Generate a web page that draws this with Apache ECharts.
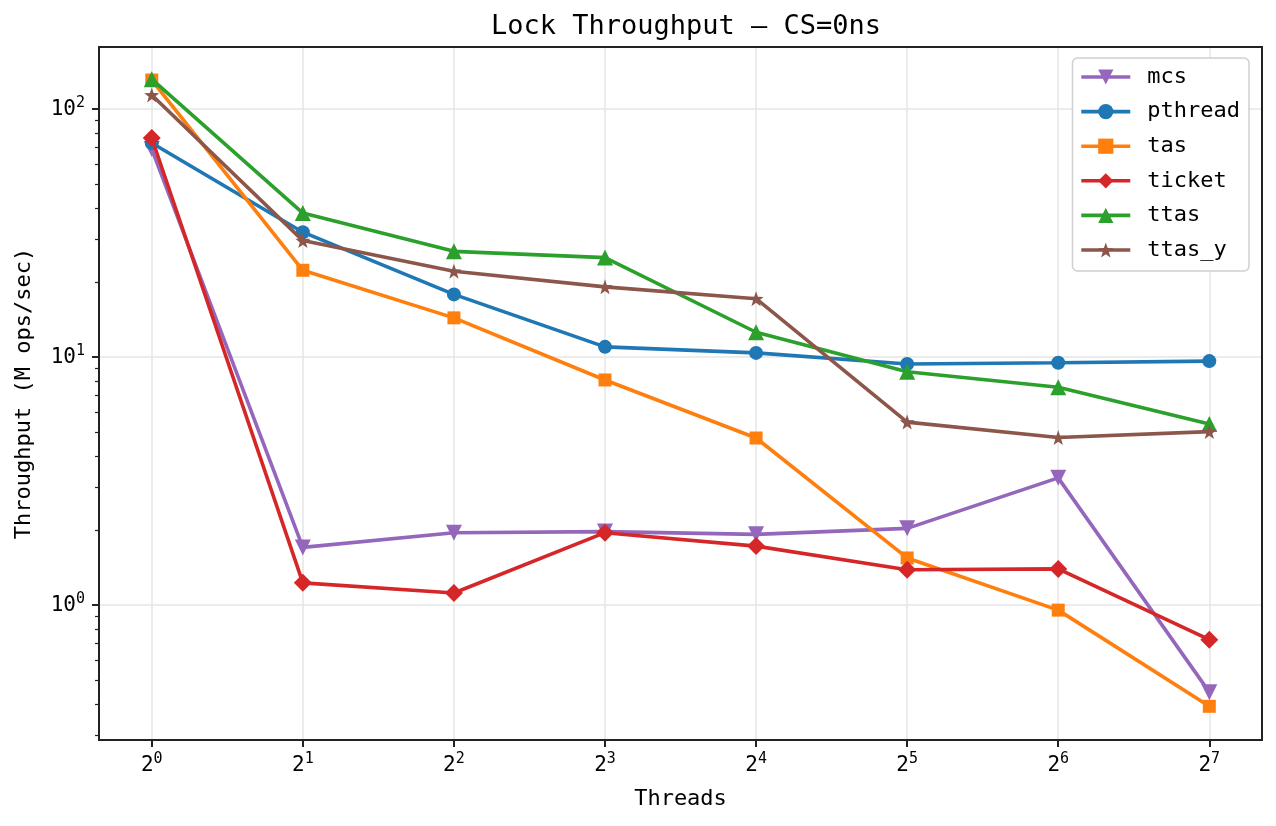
<!DOCTYPE html>
<html>
<head>
<meta charset="utf-8">
<script src="https://cdn.jsdelivr.net/npm/echarts@6/dist/echarts.min.js"></script>
<style>html,body{margin:0;padding:0;background:#fff}#c{width:1276px;height:826px}</style>
</head>
<body>
<div id="c"></div>
<script>
const threads = [1, 2, 4, 8, 16, 32, 64, 128];
const seriesNames = ['mcs', 'pthread', 'tas', 'ticket', 'ttas', 'ttas_y'];
const mcs     = [69,   1.71, 1.96, 1.98, 1.93, 2.04, 3.26, 0.446];
const pthread = [73,   31.9, 17.9, 11.0, 10.4, 9.38, 9.49, 9.64];
const tas     = [131,  22.4, 14.4, 8.09, 4.72, 1.55, 0.955, 0.391];
const ticket  = [76.5, 1.23, 1.12, 1.96, 1.73, 1.39, 1.40, 0.726];
const ttas    = [132,  38.1, 26.7, 25.2, 12.6, 8.73, 7.56, 5.38];
const ttas_y  = [114,  29.5, 22.2, 19.2, 17.2, 5.47, 4.74, 5.01];
const yMinorTicks = [0.3,0.4,0.5,0.6,0.7,0.8,0.9,2,3,4,5,6,7,8,9,20,30,40,50,60,70,80,90];

const colors = ['#9467bd', '#1f77b4', '#ff7f0e', '#d62728', '#2ca02c', '#8c564b'];
const star = 'path://M0,-10L2.35,-3.24L9.51,-3.09L3.8,1.24L5.88,8.09L0,4L-5.88,8.09L-3.8,1.24L-9.51,-3.09L-2.35,-3.24Z';
const symbols = [
  {symbol: 'triangle', size: 16, rotate: 180},
  {symbol: 'circle', size: 14, rotate: 0},
  {symbol: 'rect', size: 13, rotate: 0},
  {symbol: 'diamond', size: 18, rotate: 0},
  {symbol: 'triangle', size: 16, rotate: 0},
  {symbol: star, size: 15, rotate: 0}
];
const allData = [mcs, pthread, tas, ticket, ttas, ttas_y];

const mono = 'DejaVu Sans Mono';
const rich = {
  b: {fontFamily: mono, fontSize: 21, color: '#000'},
  s: {fontFamily: mono, fontSize: 15, color: '#000', padding: [0, 0, 12, 0]}
};
function powLabel(base, baseText) {
  return function (v) {
    const l = Math.log(v) / Math.log(base);
    const e = Math.round(l);
    if (Math.abs(l - e) > 1e-6) return '';
    return '{b|' + baseText + '}{s|' + e + '}';
  };
}

const series = seriesNames.map((n, i) => ({
  name: n,
  type: 'line',
  data: threads.map((t, j) => [t, allData[i][j]]),
  symbol: symbols[i].symbol,
  symbolSize: symbols[i].size,
  symbolRotate: symbols[i].rotate,
  lineStyle: {width: 3.6, color: colors[i]},
  itemStyle: {color: colors[i]},
  emphasis: {disabled: true},
  z: 2 + i
}));

const axisDark = '#222';
const chart = echarts.init(document.getElementById('c'), null, {renderer: 'canvas'});
chart.setOption({
  animation: false,
  backgroundColor: '#fff',
  title: {
    text: 'Lock Throughput — CS=0ns',
    left: 681, top: 8, textAlign: 'center',
    textStyle: {fontFamily: mono, fontSize: 27, fontWeight: 'normal', color: '#000'}
  },
  grid: {left: 99, right: 14, top: 47, bottom: 86, show: true, borderColor: axisDark, borderWidth: 2, backgroundColor: 'transparent', z: 10},
  legend: {
    orient: 'vertical', right: 27, top: 58,
    data: seriesNames,
    itemWidth: 49, itemHeight: 19, itemGap: 10.6,
    padding: [7, 9, 9, 7],
    lineStyle: {width: 3.6},
    backgroundColor: '#fff', borderColor: '#d0d0d0', borderWidth: 1.5, borderRadius: 5,
    textStyle: {fontFamily: mono, fontSize: 22, color: '#000', lineHeight: 24, padding: [0, 0, 0, 12]}
  },
  xAxis: {
    type: 'log', logBase: 2, min: 0.785, max: 163,
    name: 'Threads', nameLocation: 'middle', nameGap: 48,
    nameTextStyle: {fontFamily: mono, fontSize: 22, color: '#000'},
    axisLine: {show: true, lineStyle: {color: axisDark, width: 2}},
    axisTick: {show: true, length: 7, lineStyle: {color: axisDark, width: 2}},
    axisLabel: {formatter: powLabel(2, '2'), rich: rich, margin: 12, showMinLabel: false, showMaxLabel: false},
    splitLine: {show: true, showMinLine: false, showMaxLine: false, lineStyle: {color: '#e6e6e6', width: 1.5}},
    minorTick: {show: false}
  },
  yAxis: [{
    type: 'log', logBase: 10, min: 0.286, max: 178,
    name: 'Throughput (M ops/sec)', nameLocation: 'middle', nameGap: 64,
    nameTextStyle: {fontFamily: mono, fontSize: 22, color: '#000'},
    axisLine: {show: true, lineStyle: {color: axisDark, width: 2}},
    axisTick: {show: true, length: 7, lineStyle: {color: axisDark, width: 2}},
    axisLabel: {formatter: powLabel(10, '10'), rich: rich, margin: 14, showMinLabel: false, showMaxLabel: false},
    splitLine: {show: true, showMinLine: false, showMaxLine: false, lineStyle: {color: '#e6e6e6', width: 1.5}}
  }, {
    type: 'log', logBase: 10, min: 0.286, max: 178, position: 'left',
    axisLine: {show: false},
    axisTick: {show: true, length: 4, customValues: yMinorTicks, lineStyle: {color: axisDark, width: 1.2}},
    axisLabel: {show: false},
    splitLine: {show: false}
  }],
  series: series
});
</script>
</body>
</html>
